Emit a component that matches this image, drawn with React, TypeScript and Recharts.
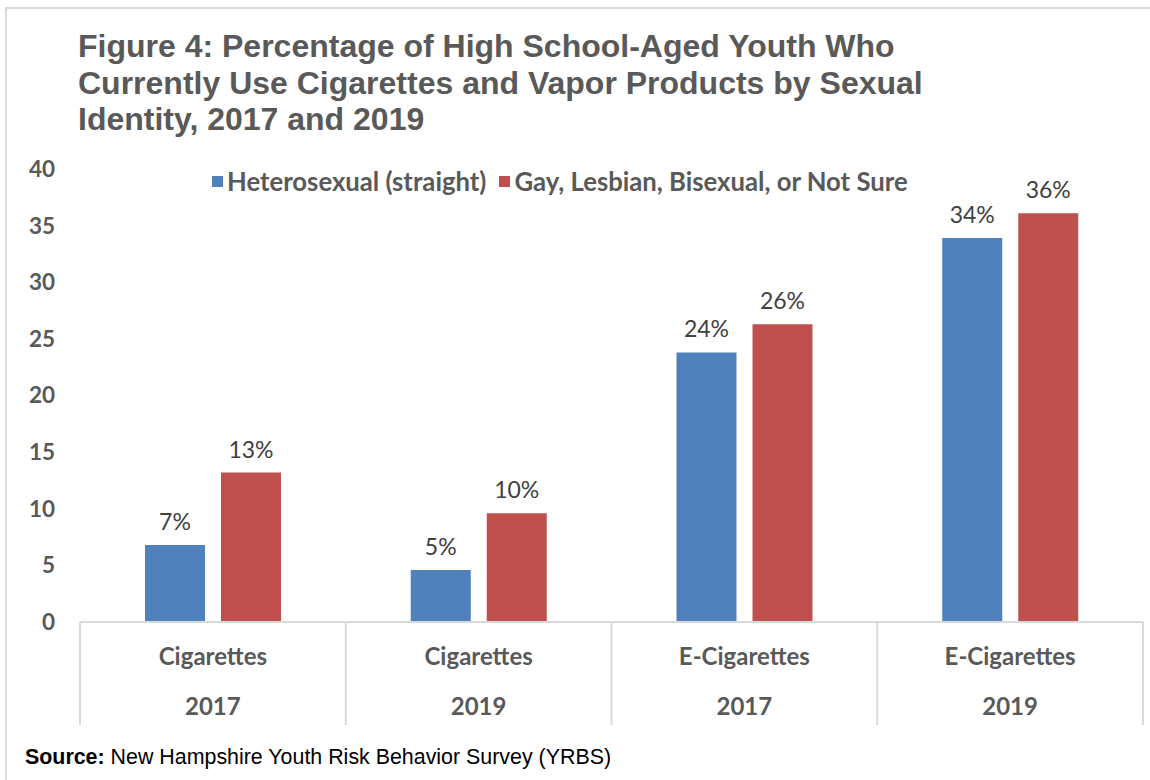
import { BarChart, Bar, XAxis, YAxis, LabelList } from 'recharts';

const products = ['Cigarettes', 'Cigarettes', 'E-Cigarettes', 'E-Cigarettes'];
const years = ['2017', '2019', '2017', '2019'];
const heterosexual = [6.8, 4.6, 23.8, 33.9];
const lgbq = [13.2, 9.6, 26.3, 36.1];
const yTicks = [0, 5, 10, 15, 20, 25, 30, 35, 40];

const seriesNames = ['Heterosexual (straight)', 'Gay, Lesbian, Bisexual, or Not Sure'];
const colors = ['#4f81bd', '#c0504d'];

const data = products.map((p, i) => ({
  key: `${p}-${years[i]}`,
  product: p,
  year: years[i],
  het: heterosexual[i],
  lgbq: lgbq[i],
}));

const W = 1150;
const H = 780;
const M = { top: 169, right: 7, bottom: 55, left: 20 };
const Y_W = 60;
const X_H = 103;
const plotW = W - M.left - M.right - Y_W;
const band = plotW / data.length;

const GRAY = '#595959';
const LINE = '#d9d9d9';
const FONT = 'Lato, "Open Sans", sans-serif';
const ARIAL = '"Liberation Sans", Arial, sans-serif';

// tick y sits 8px below the axis line (tick size + margin)
const CategoryTick = (props: any) => {
  const { x, y, index } = props;
  const d = data[index];
  const top = y - 8;
  const left = x - band / 2;
  const right = x + band / 2;
  return (
    <g>
      <line x1={left} y1={top} x2={left} y2={top + X_H} stroke={LINE} strokeWidth={2} />
      {index === data.length - 1 && (
        <line x1={right} y1={top} x2={right} y2={top + X_H} stroke={LINE} strokeWidth={2} />
      )}
      <text x={x} y={top + 43} textAnchor="middle" fill={GRAY} fontSize={24} fontWeight={700} fontFamily={FONT}>
        {d.product}
      </text>
      <text x={x} y={top + 93} textAnchor="middle" fill={GRAY} fontSize={24} fontWeight={700} fontFamily={FONT}>
        {d.year}
      </text>
    </g>
  );
};

const pct = (v: any) => `${Math.round(Number(v))}%`;

export default function App() {
  return (
    <div style={{ position: 'absolute', left: 0, top: 0, width: W, height: H, background: '#fff', overflow: 'hidden' }}>
      <div style={{ position: 'absolute', left: 5, top: 7, right: 0, bottom: 0, borderTop: `2px solid ${LINE}`, borderLeft: `2px solid ${LINE}` }} />
      <div
        style={{
          position: 'absolute',
          left: 78,
          top: 28,
          width: 1000,
          fontFamily: ARIAL,
          fontWeight: 700,
          fontSize: 32,
          lineHeight: '36.5px',
          color: GRAY,
        }}
      >
        Figure 4: Percentage of High School-Aged Youth Who
        <br />
        Currently Use Cigarettes and Vapor Products by Sexual
        <br />
        Identity, 2017 and 2019
      </div>
      <div style={{ position: 'absolute', left: 0, top: 0 }}>
        <BarChart width={W} height={H} data={data} margin={M} barGap={16} barSize={60}>
          <XAxis
            dataKey="key"
            height={X_H}
            interval={0}
            axisLine={{ stroke: LINE, strokeWidth: 2 }}
            tickLine={false}
            tick={<CategoryTick />}
          />
          <YAxis
            width={Y_W}
            domain={[0, 40]}
            ticks={yTicks}
            axisLine={false}
            tickLine={false}
            tickMargin={19}
            tick={{ fill: GRAY, fontSize: 22.5, fontWeight: 700, fontFamily: FONT }}
          />
          <Bar dataKey="het" name={seriesNames[0]} fill={colors[0]} isAnimationActive={false}>
            <LabelList dataKey="het" position="top" offset={15} formatter={pct} fill="#404040" fontSize={23} fontFamily={FONT} />
          </Bar>
          <Bar dataKey="lgbq" name={seriesNames[1]} fill={colors[1]} isAnimationActive={false}>
            <LabelList dataKey="lgbq" position="top" offset={15} formatter={pct} fill="#404040" fontSize={23} fontFamily={FONT} />
          </Bar>
        </BarChart>
      </div>
      <div
        style={{
          position: 'absolute',
          left: 212,
          top: 166,
          height: 30,
          display: 'flex',
          alignItems: 'center',
          fontFamily: FONT,
          fontWeight: 700,
          fontSize: 25.7,
          color: GRAY,
          whiteSpace: 'nowrap',
        }}
      >
        {seriesNames.map((n, i) => (
          <span key={n} style={{ display: 'flex', alignItems: 'center', marginRight: 13 }}>
            <span style={{ width: 11, height: 11, background: colors[i], display: 'inline-block', marginRight: 4 }} />
            {n}
          </span>
        ))}
      </div>
      <div
        style={{
          position: 'absolute',
          left: 25,
          top: 745,
          fontFamily: ARIAL,
          fontSize: 21.4,
          color: '#000',
          whiteSpace: 'nowrap',
        }}
      >
        <b>Source:</b> New Hampshire Youth Risk Behavior Survey (YRBS)
      </div>
    </div>
  );
}
